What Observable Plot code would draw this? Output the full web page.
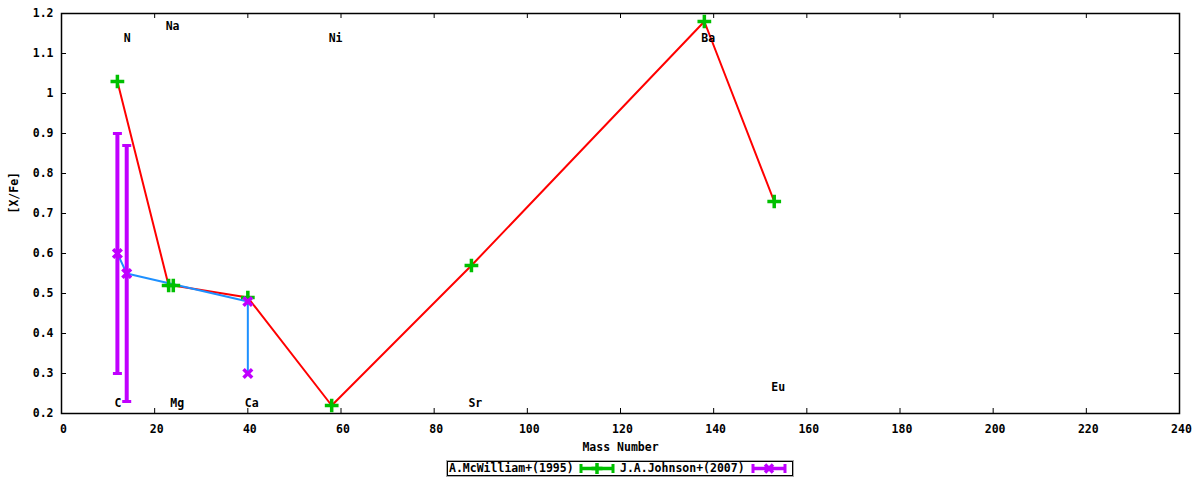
<!DOCTYPE html>
<html><head><meta charset="utf-8">
<script src="https://cdn.jsdelivr.net/npm/d3@7"></script>
<script src="https://cdn.jsdelivr.net/npm/@observablehq/plot@0.6"></script>
<style>
body{margin:0;background:#fff;font-family:"DejaVu Sans Mono",monospace;font-weight:bold;font-size:11.5px;color:#000;position:relative;width:1200px;height:480px}
#legend{position:absolute;left:447px;top:461px;width:344px;height:13px;border:1px solid #000;box-shadow:0 0 0 1px #aaa}
#legend span,#legend svg{position:absolute;top:0;line-height:13px;white-space:nowrap}
</style></head><body>
<div id="chart"></div>
<div id="legend"></div>
<script>
// A. McWilliam+ (1995)
const mcwMass = [12, 23, 24, 40, 58, 88, 138, 153];
const mcwXFe  = [1.03, 0.52, 0.52, 0.49, 0.22, 0.57, 1.18, 0.73];
// J.A. Johnson+ (2007)
const johMass = [12, 14, 40, 40];
const johXFe  = [0.60, 0.55, 0.48, 0.30];
const johErrMass = [12, 14];
const johLo = [0.30, 0.23];
const johHi = [0.90, 0.87];
// element labels
const elements  = ["C", "N", "Na", "Mg", "Ca", "Ni", "Sr", "Ba", "Eu"];
const elemMass  = [12, 14, 23, 24, 40, 58, 88, 138, 153];
const elemLabelY = [0.225, 1.138, 1.168, 0.225, 0.225, 1.138, 0.225, 1.138, 0.265];
// ticks
const xTicks = [0, 20, 40, 60, 80, 100, 120, 140, 160, 180, 200, 220, 240];
const yTicks = [0.2, 0.3, 0.4, 0.5, 0.6, 0.7, 0.8, 0.9, 1, 1.1, 1.2];
const seriesNames = ["A.McWilliam+(1995)", "J.A.Johnson+(2007)"];

const RED = "#ff0000", BLUE = "#1e90ff", GREEN = "#00c000", PURPLE = "#c000ff";

const mcw = mcwMass.map((m, i) => ({m, v: mcwXFe[i]}));
const joh = johMass.map((m, i) => ({m, v: johXFe[i]}));
const johErr = johErrMass.map((m, i) => ({m, lo: johLo[i], hi: johHi[i]}));
const labels = elements.map((e, i) => ({e, m: elemMass[i], y: elemLabelY[i]}));

const capSymbol = {draw(ctx) { ctx.rect(-4.5, -1.5, 9, 3); }};

const W = 1200, H = 455, mL = 61, mR = 21, mT = 13, mB = 42;
const fw = W - mL - mR, fh = H - mT - mB;

const chart = Plot.plot({
  width: W, height: H,
  marginLeft: mL, marginRight: mR, marginTop: mT, marginBottom: mB,
  style: {fontFamily: '"DejaVu Sans Mono", monospace', fontSize: "11.5px", fontWeight: "bold", background: "#fff", color: "#000"},
  x: {domain: [0, 240], label: null},
  y: {domain: [0.2, 1.2], label: null},
  marks: [
    Plot.axisX({ticks: xTicks, tickSize: 0, tickPadding: 11, dx: 2, label: null}),
    Plot.axisY({ticks: yTicks, tickSize: 0, tickPadding: 8, tickFormat: d3.format("~g"), label: null}),
    Plot.tickX(xTicks, {x: d => d, insetTop: fh - 5, stroke: "#000"}),
    Plot.tickX(xTicks, {x: d => d, insetBottom: fh - 5, stroke: "#000"}),
    Plot.tickY(yTicks, {y: d => d, insetRight: fw - 5, stroke: "#000"}),
    Plot.tickY(yTicks, {y: d => d, insetLeft: fw - 5, stroke: "#000"}),
    Plot.frame({stroke: "#000", strokeWidth: 1.5}),
    Plot.line(mcw, {x: "m", y: "v", stroke: RED, strokeWidth: 2}),
    Plot.line(joh, {x: "m", y: "v", stroke: BLUE, strokeWidth: 2}),
    Plot.dot(mcw, {x: "m", y: "v", symbol: "plus", r: 4.5, stroke: GREEN, strokeWidth: 3.5}),
    Plot.ruleX(johErr, {x: "m", y1: "lo", y2: "hi", stroke: PURPLE, strokeWidth: 4}),
    Plot.dot(johErr, {x: "m", y: "lo", symbol: capSymbol, fill: PURPLE, stroke: "none"}),
    Plot.dot(johErr, {x: "m", y: "hi", symbol: capSymbol, fill: PURPLE, stroke: "none"}),
    Plot.dot(joh, {x: "m", y: "v", symbol: "times", r: 4, stroke: PURPLE, strokeWidth: 3.5}),
    Plot.dot(joh, {x: "m", y: "v", symbol: "square", r: 2.5, fill: PURPLE, stroke: "none"}),
    Plot.text(labels, {x: "m", y: "y", text: "e", textAnchor: "start", dx: -3, fill: "#000"}),
    Plot.text(["Mass Number"], {frameAnchor: "bottom", dy: 37, fill: "#000"}),
    Plot.text(["[X/Fe]"], {frameAnchor: "left", dx: -47, rotate: -90, fill: "#000"})
  ]
});
document.getElementById("chart").appendChild(chart);

function sample(color, marker, left) {
  const m = marker === "plus"
    ? `<path d="M18 1V12M12.5 6.5H23.5" stroke="${color}" stroke-width="3.5"/>`
    : `<path d="M14 2.5L22 10.5M22 2.5L14 10.5" stroke="${color}" stroke-width="3.5"/><rect x="15.5" y="4" width="5" height="5" fill="${color}"/>`;
  return `<svg width="36" height="13" style="left:${left}px"><path d="M2 6.5H34" stroke="${color}" stroke-width="3.5"/><path d="M2 2V11M34 2V11" stroke="${color}" stroke-width="3"/>${m}</svg>`;
}
document.getElementById("legend").innerHTML =
  `<span style="left:1px">${seriesNames[0]}</span>${sample(GREEN, "plus", 131)}` +
  `<span style="left:172px">${seriesNames[1]}</span>${sample(PURPLE, "times", 303)}`;
</script>
</body></html>
